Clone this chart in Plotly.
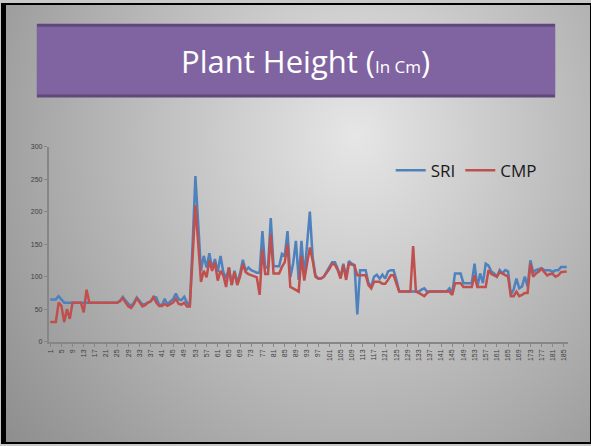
import plotly.graph_objects as go

# Plant height readings (cm), one per plant
plant_no = list(range(1, 187))

sri = [65, 65, 65, 70, 65, 60, 60, 60, 60, 60,
       60, 60, 60, 60, 60, 60, 60, 60, 60, 60,
       60, 60, 60, 60, 60, 63, 69, 63, 58, 55,
       60, 68, 62, 57, 58, 60, 62, 69, 68, 57,
       56, 66, 57, 62, 65, 74, 65, 64, 69, 60,
       56, 150, 255, 182, 109, 132, 114, 136, 112, 127,
       107, 132, 107, 97, 114, 87, 109, 90, 105, 126,
       109, 114, 110, 108, 106, 106, 170, 114, 114, 190,
       116, 116, 116, 135, 132, 170, 99, 120, 155, 95,
       155, 99, 150, 200, 130, 102, 97, 97, 100, 108,
       115, 122, 122, 112, 99, 120, 99, 124, 120, 118,
       42, 110, 110, 110, 90, 85, 100, 103, 97, 103,
       97, 108, 110, 110, 95, 77, 77, 77, 77, 77,
       77, 77, 77, 80, 82, 77, 77, 77, 77, 77,
       77, 77, 77, 82, 75, 105, 105, 105, 90, 90,
       90, 90, 120, 84, 105, 90, 120, 117, 108, 105,
       100, 110, 105, 110, 108, 72, 80, 97, 82, 85,
       100, 85, 125, 107, 110, 112, 113, 110, 110, 110,
       107, 110, 110, 115, 115, 115]

cmp_ = [30, 30, 30, 60, 55, 30, 50, 35, 60, 60,
        60, 60, 45, 80, 60, 60, 60, 60, 60, 60,
        60, 60, 60, 60, 60, 62, 67, 60, 54, 52,
        58, 67, 60, 54, 56, 60, 62, 68, 60, 55,
        55, 58, 55, 58, 60, 66, 58, 57, 60, 54,
        54, 130, 210, 151, 92, 109, 99, 125, 109, 122,
        94, 109, 102, 84, 114, 87, 107, 87, 100, 120,
        107, 104, 102, 100, 99, 72, 142, 104, 104, 165,
        105, 105, 105, 115, 122, 150, 84, 82, 80, 77,
        132, 94, 120, 145, 125, 100, 97, 97, 100, 106,
        112, 120, 118, 110, 97, 118, 95, 120, 118, 117,
        102, 102, 102, 102, 87, 82, 92, 92, 92, 89,
        89, 95, 102, 102, 90, 77, 77, 77, 77, 77,
        147, 77, 75, 72, 70, 75, 77, 77, 77, 77,
        77, 77, 77, 77, 72, 90, 90, 90, 84, 84,
        84, 84, 102, 84, 84, 84, 84, 110, 104, 102,
        100, 107, 105, 102, 100, 70, 70, 77, 70, 72,
        75, 75, 120, 100, 105, 108, 112, 107, 102, 104,
        104, 100, 102, 107, 107, 108]

x_ticks = list(range(1, 186, 4))
y_ticks = [0, 50, 100, 150, 200, 250, 300]

W, H = 591, 446

fig = go.Figure()

# slide background (grey radial shading) on the full-page axes
fig.add_trace(go.Scatter(
    x=[-0.3, 1.5, 1.5, -0.3, -0.3], y=[-0.6, -0.6, 2.0, 2.0, -0.6],
    mode="lines", line=dict(width=0), fill="toself",
    fillgradient=dict(type="radial",
                      colorscale=[[0, "#e6e6e6"], [1, "#7e7e7e"]]),
    hoverinfo="skip", showlegend=False))

fig.add_trace(go.Scatter(x=plant_no, y=sri, name="SRI", mode="lines",
                         xaxis="x2", yaxis="y2",
                         line=dict(color="#4f81bd", width=2.5)))
fig.add_trace(go.Scatter(x=plant_no, y=cmp_, name="CMP", mode="lines",
                         xaxis="x2", yaxis="y2",
                         line=dict(color="#c0504d", width=2.5)))

axis_col = "#868686"
tick_font = dict(family="Liberation Sans, Arial", size=7, color="#404040")

fig.update_layout(
    width=W, height=H,
    margin=dict(l=0, r=0, t=0, b=0),
    paper_bgcolor="#c8c8c8",
    plot_bgcolor="rgba(0,0,0,0)",
    showlegend=True,
    legend=dict(orientation="h", x=0.66, y=0.62, xanchor="left", yanchor="middle",
                bgcolor="rgba(0,0,0,0)", itemwidth=30, tracegroupgap=0,
                font=dict(family="Open Sans, Liberation Sans", size=17, color="#1a1a1a")),
    xaxis=dict(domain=[0, 1], range=[0, 1], visible=False, fixedrange=True),
    yaxis=dict(domain=[0, 1], range=[0, 1], visible=False, fixedrange=True),
    xaxis2=dict(domain=[47 / W, 568 / W], range=[0.5, 186.5], anchor="y2",
                tickmode="array", tickvals=x_ticks, ticktext=[str(v) for v in x_ticks],
                tickangle=-90, tickfont=tick_font,
                showline=True, linecolor=axis_col, linewidth=2,
                ticks="outside", ticklen=3, tickcolor=axis_col,
                showgrid=False, zeroline=False),
    yaxis2=dict(domain=[1 - 343 / H, 1 - 145 / H], range=[0, 300], anchor="x2",
                tickvals=y_ticks, tickfont=tick_font,
                showline=True, linecolor=axis_col, linewidth=2,
                ticks="outside", ticklen=3, tickcolor=axis_col,
                showgrid=False, zeroline=False),
    shapes=[
        # title banner
        dict(type="rect", xref="paper", yref="paper",
             x0=35 / W, x1=555 / W, y0=1 - 95 / H, y1=1 - 20 / H,
             fillcolor="#5f497a", line=dict(width=0), layer="above"),
        dict(type="rect", xref="paper", yref="paper",
             x0=35 / W, x1=555 / W, y0=1 - 92 / H, y1=1 - 23 / H,
             fillcolor="#8064a2", line=dict(width=0), layer="above"),
        # slide frame
        dict(type="rect", xref="paper", yref="paper", x0=0, x1=1, y0=0, y1=1,
             line=dict(color="#000000", width=2)),
        dict(type="rect", xref="paper", yref="paper", x0=0, x1=4 / W, y0=0, y1=1,
             fillcolor="#000000", line=dict(width=0)),
    ],
    annotations=[
        dict(text="Plant Height (<span style='font-size:17px'>In Cm</span>)",
             xref="paper", yref="paper", x=305 / W, y=1 - 58 / H,
             xanchor="center", yanchor="middle", showarrow=False,
             font=dict(family="Open Sans, Liberation Sans", size=31, color="#ffffff")),
    ],
)

fig.write_html("out.html", config={"displayModeBar": False},
               post_script="document.body.style.margin='0';")
